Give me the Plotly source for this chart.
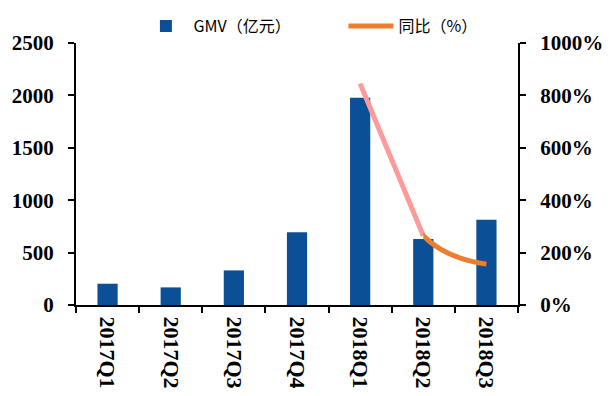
import plotly.graph_objects as go

categories = ["2017Q1", "2017Q2", "2017Q3", "2017Q4", "2018Q1", "2018Q2", "2018Q3"]
gmv = [203, 168, 330, 693, 1978, 630, 813]
yoy_cats = ["2018Q1", "2018Q2", "2018Q3"]
yoy = [845, 264, 156]

BAR = "#0B4F96"
PINK = "#FF9A9A"
ORANGE = "#ED7D31"
tick_font = dict(family="Liberation Serif, Times New Roman, serif", size=21, color="black", weight="bold")

n = len(categories)
split_idx = categories.index("2018Q2")
split_frac = (split_idx + 0.5) / n

fig = go.Figure()
fig.add_trace(go.Bar(x=categories, y=gmv, name="GMV（亿元）", marker=dict(color=BAR, line=dict(width=0)),
                     xaxis="x", yaxis="y"))
# first segment (2018Q1 -> 2018Q2) drawn in pink
fig.add_trace(go.Scatter(x=yoy_cats[:2], y=yoy[:2], mode="lines", line=dict(color=PINK, width=5),
                         showlegend=False, xaxis="x", yaxis="y2", hoverinfo="skip"))
# smoothed series, shown from 2018Q2 onward in orange
fig.add_trace(go.Scatter(x=yoy_cats, y=yoy, mode="lines", name="同比（%）",
                         line=dict(color=ORANGE, width=5, shape="spline", smoothing=1.2),
                         xaxis="x3", yaxis="y3"))

fig.update_layout(
    width=610, height=396,
    margin=dict(l=76, r=92, t=43, b=91, autoexpand=False),
    paper_bgcolor="white", plot_bgcolor="rgba(0,0,0,0)",
    bargap=0.68,
    showlegend=True,
    legend=dict(orientation="h", x=0.605, xanchor="center", y=1.0, yanchor="bottom",
                font=dict(family="Noto Sans CJK SC", size=16, color="black"),
                bgcolor="rgba(0,0,0,0)", itemwidth=45, entrywidth=145, entrywidthmode="pixels",
                tracegroupgap=0),
    xaxis=dict(type="category", categoryorder="array", categoryarray=categories,
               range=[-0.5, n - 0.5], domain=[0, 1], anchor="y",
               showline=True, linecolor="black", linewidth=2, mirror=False,
               ticks="outside", tickson="boundaries", ticklen=6, tickwidth=2, tickcolor="black",
               tickangle=90, ticklabelstandoff=5,
               tickfont=dict(family="Liberation Serif, Times New Roman, serif", size=22, color="black", weight="bold"),
               showgrid=False, zeroline=False),
    yaxis=dict(range=[0, 2500], dtick=500, showline=True, linecolor="black", linewidth=2,
               ticks="outside", ticklen=6, tickwidth=2, tickcolor="black", ticklabelstandoff=10,
               tickfont=tick_font, showgrid=False, zeroline=False),
    yaxis2=dict(range=[0, 1000], dtick=200, overlaying="y", side="right", anchor="x",
                ticksuffix="%", showline=True, linecolor="black", linewidth=2,
                ticks="outside", ticklen=6, tickwidth=2, tickcolor="black", ticklabelstandoff=10,
                tickfont=tick_font, showgrid=False, zeroline=False),
    xaxis3=dict(type="category", categoryorder="array", categoryarray=categories,
                range=[split_idx, n - 0.5], domain=[split_frac, 1], anchor="y3",
                visible=False, showgrid=False, zeroline=False),
    yaxis3=dict(range=[0, 1000], domain=[0, 1], anchor="x3", visible=False,
                showgrid=False, zeroline=False),
)

fig.write_html("out.html")
